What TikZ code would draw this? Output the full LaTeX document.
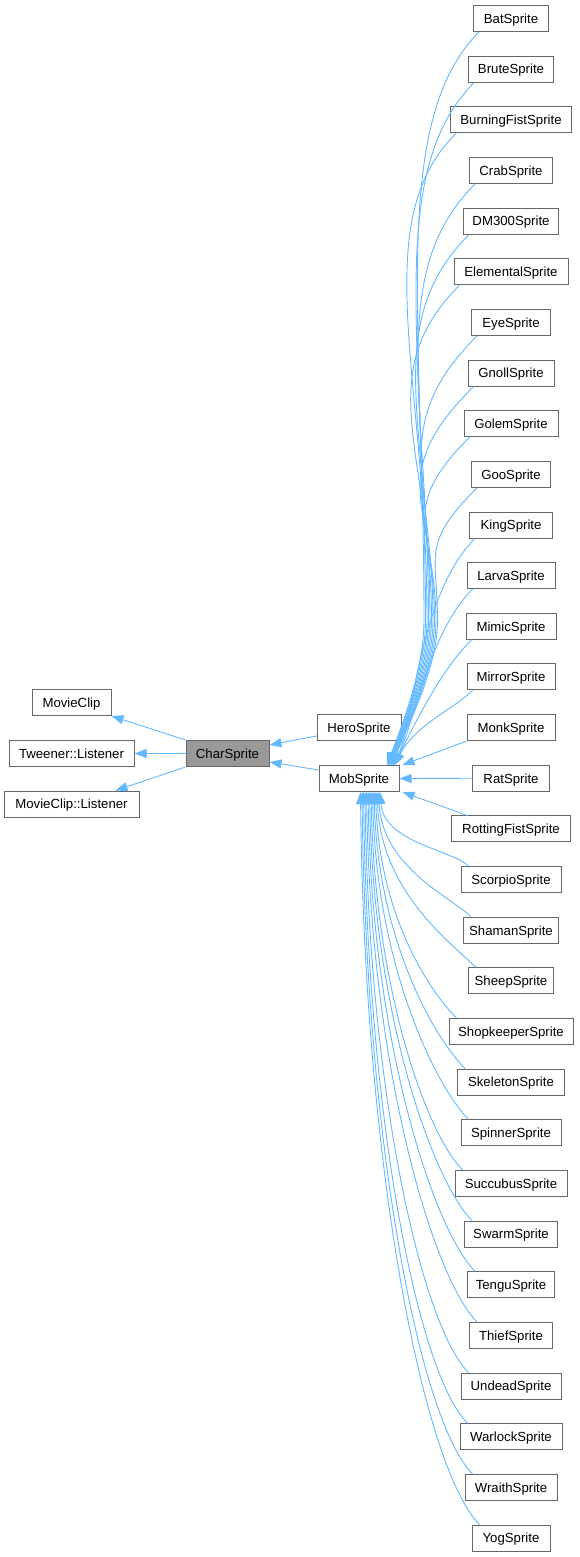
\documentclass[tikz,border=0pt]{standalone}
\usepackage{fontspec}
\setmainfont{Liberation Sans}
\usetikzlibrary{arrows.meta}
\definecolor{edgeblue}{HTML}{63B8FF}
\definecolor{boxborder}{HTML}{666666}
\definecolor{basefill}{HTML}{999999}
\begin{document}
\begin{tikzpicture}[x=1pt,y=-1pt,
 box/.style={draw=boxborder, line width=1pt, fill=white, minimum height=26pt, inner sep=0pt, text height=9.6pt, text depth=0pt, font=\fontsize{13.2}{15}\selectfont, text=black},
 edge/.style={draw=edgeblue, line width=0.9pt, {Triangle[length=12pt,width=9pt]}-}]
\useasboundingbox (0,0) rectangle (579,1557);
% left part
\node[box, minimum width=83pt, fill=basefill] (CharSprite) at (227.5,753.5) {CharSprite};
\node[box, minimum width=79pt] (MovieClip) at (71.5,702.5) {MovieClip};
\node[box, minimum width=125pt] (TweenerListener) at (71.5,753.5) {Tweener::Listener};
\node[box, minimum width=135pt] (MovieClipListener) at (71.5,804) {MovieClip::Listener};
\node[box, minimum width=84pt] (HeroSprite) at (359,727.5) {HeroSprite};
\node[box, minimum width=80pt] (MobSprite) at (359,778.5) {MobSprite};
% right column
\foreach \nm/\w [count=\ii from 0] in {BatSprite/75, BruteSprite/85, BurningFistSprite/121, CrabSprite/83, DM300Sprite/95, ElementalSprite/114, EyeSprite/79, GnollSprite/86, GolemSprite/94, GooSprite/79, KingSprite/83, LarvaSprite/88, MimicSprite/90, MirrorSprite/88, MonkSprite/88, RatSprite/77, RottingFistSprite/119, ScorpioSprite/100, ShamanSprite/95, SheepSprite/85, ShopkeeperSprite/124, SkeletonSprite/107, SpinnerSprite/100, SuccubusSprite/112, SwarmSprite/93, TenguSprite/87, ThiefSprite/83, UndeadSprite/100, WarlockSprite/102, WraithSprite/92, YogSprite/78}{
 \pgfmathsetmacro\yy{18.5+50.65*\ii}
 \node[box, minimum width=\w pt] (\nm) at (511,\yy) {\nm};
}
% upper curved edges
\foreach \nm [count=\ii from 0] in {BatSprite, BruteSprite, BurningFistSprite, CrabSprite, DM300Sprite, ElementalSprite, EyeSprite, GnollSprite, GolemSprite, GooSprite, KingSprite, LarvaSprite, MimicSprite, MirrorSprite}{
 \pgfmathsetmacro\yy{18.5+50.65*\ii}
 \pgfmathsetmacro\ye{\yy+13}
 \pgfmathsetmacro\tx{28+0.6*\ii}
 \ifnum\ii<10
  \pgfmathsetmacro\xm{424+1.5*\ii}
  \pgfmathsetmacro\LL{-0.5*(620-\ye)}
  \pgfmathsetmacro\oo{min(0.35*(620-\ye)+10,90)}
  \coordinate (M\ii) at (\xm,620);
  \draw[edge] ([xshift=\tx pt]MobSprite.north) .. controls +(15,-40) and +(0,50) .. (M\ii)
     .. controls +(0,\LL) and +(-\oo,\oo) .. ([xshift=6pt]\nm.south west);
 \else
  \pgfmathsetmacro\oo{0.25*(765-\ye)}
  \draw[edge] ([xshift=\tx pt]MobSprite.north) .. controls +(20,-40) and +(-\oo,\oo) .. ([xshift=6pt]\nm.south west);
 \fi
}
% lower curved edges
\foreach \nm [count=\kk from 0] in {ScorpioSprite, ShamanSprite, SheepSprite, ShopkeeperSprite, SkeletonSprite, SpinnerSprite, SuccubusSprite, SwarmSprite, TenguSprite, ThiefSprite, UndeadSprite, WarlockSprite, WraithSprite, YogSprite}{
 \pgfmathsetmacro\yy{18.5+50.65*(\kk+17)}
 \pgfmathsetmacro\dd{\yy-778.5}
 \pgfmathsetmacro\tx{21-1.5*\kk}
 \pgfmathsetmacro\cb{0.5*\dd}
 \pgfmathsetmacro\oo{0.06*\dd+10}
 \draw[edge] ([xshift=\tx pt]MobSprite.south) .. controls +(4,\cb) and +(-\oo,-\oo) .. ([xshift=8pt]\nm.north west);
}
% straight edges
\draw[edge] ([xshift=3pt]MobSprite.north east) -- (MonkSprite.south west);
\draw[edge] (MobSprite.east) -- (RatSprite.west);
\draw[edge] ([xshift=3pt]MobSprite.south east) -- ([xshift=16pt]RottingFistSprite.north west);
\draw[edge] (MovieClip.south east) -- (CharSprite.north west);
\draw[edge] (TweenerListener.east) -- (CharSprite.west);
\draw[edge] ([xshift=-24pt]MovieClipListener.north east) -- (CharSprite.south west);
\draw[edge] ([yshift=8.5pt]CharSprite.east) -- ([yshift=-8.5pt]HeroSprite.west);
\draw[edge] ([yshift=-8.5pt]CharSprite.east) -- ([yshift=8.5pt]MobSprite.west);
\end{tikzpicture}
\end{document}
